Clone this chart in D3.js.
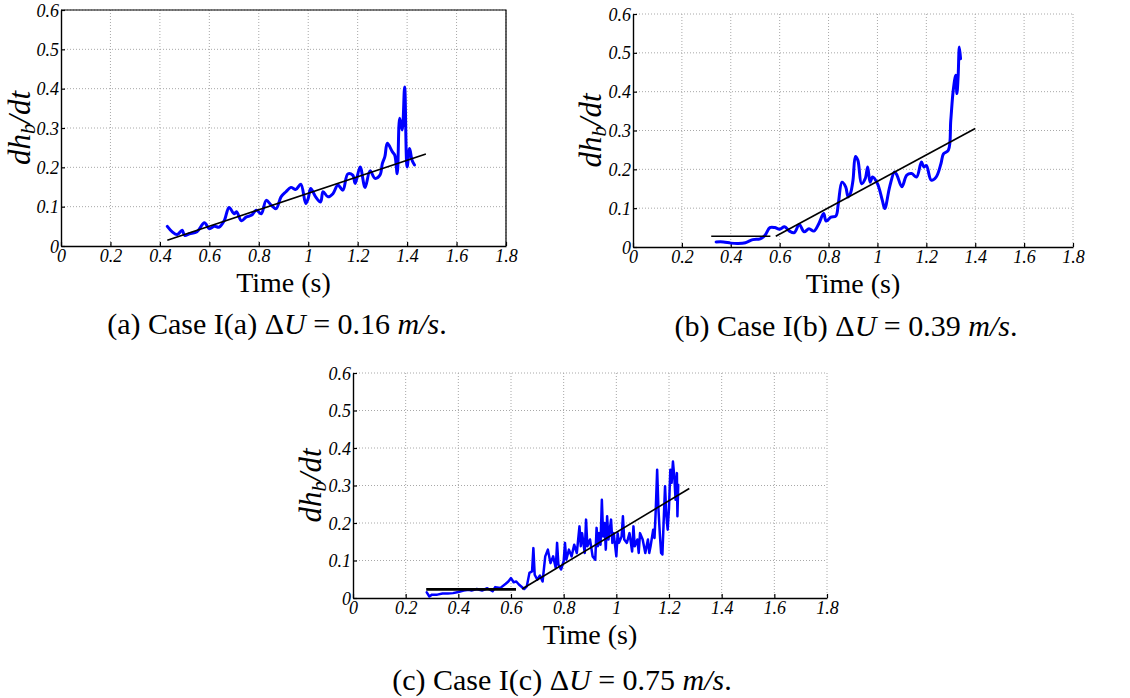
<!DOCTYPE html>
<html>
<head>
<meta charset="utf-8">
<script src="https://cdn.jsdelivr.net/npm/d3@7"></script>
<style>
  body { margin: 0; background: #fff; }
  text { font-family: 'Liberation Serif', 'DejaVu Serif', serif; }
</style>
</head>
<body>
<div id="root"></div>
<script>
const SVG_WIDTH = 1130;
const SVG_HEIGHT = 698;

const X_TICKS = [0, 0.2, 0.4, 0.6, 0.8, 1, 1.2, 1.4, 1.6, 1.8];
const X_TICK_LABELS = ['0', '0.2', '0.4', '0.6', '0.8', '1', '1.2', '1.4', '1.6', '1.8'];
const Y_TICKS = [0, 0.1, 0.2, 0.3, 0.4, 0.5, 0.6];
const Y_TICK_LABELS = ['0', '0.1', '0.2', '0.3', '0.4', '0.5', '0.6'];

// (a) Case I(a)
const timeA = [0.43, 0.45, 0.47, 0.49, 0.50, 0.52, 0.55, 0.58, 0.60, 0.62, 0.64, 0.66, 0.68, 0.70, 0.71, 0.73,
  0.75, 0.77, 0.79, 0.81, 0.83, 0.85, 0.87, 0.89, 0.91, 0.93, 0.95, 0.97, 0.99, 1.00, 1.01, 1.03, 1.05, 1.06,
  1.08, 1.10, 1.12, 1.14, 1.16, 1.18, 1.19, 1.21, 1.23, 1.25, 1.27, 1.29, 1.30, 1.31, 1.32, 1.34, 1.35, 1.36,
  1.37, 1.38, 1.39, 1.40, 1.41, 1.42, 1.43];
const rateA = [0.050, 0.036, 0.029, 0.040, 0.027, 0.031, 0.036, 0.059, 0.044, 0.050, 0.048, 0.064, 0.098, 0.082,
  0.087, 0.064, 0.074, 0.078, 0.091, 0.082, 0.116, 0.104, 0.095, 0.125, 0.138, 0.149, 0.144, 0.157, 0.108, 0.121,
  0.146, 0.125, 0.112, 0.138, 0.125, 0.133, 0.155, 0.142, 0.183, 0.180, 0.159, 0.201, 0.149, 0.191, 0.172, 0.180,
  0.210, 0.227, 0.261, 0.240, 0.231, 0.184, 0.325, 0.295, 0.404, 0.201, 0.248, 0.218, 0.206];
const fitTimeA = [[0.43, 1.476]];
const fitRateA = [[0.0145, 0.234]];

// (b) Case I(b)
const timeB = [0.34, 0.37, 0.40, 0.43, 0.46, 0.49, 0.52, 0.54, 0.56, 0.58, 0.60, 0.62, 0.64, 0.66, 0.68, 0.70,
  0.72, 0.74, 0.76, 0.78, 0.79, 0.81, 0.83, 0.84, 0.855, 0.87, 0.88, 0.89, 0.90, 0.91, 0.92, 0.935, 0.95, 0.96,
  0.97, 0.98, 1.00, 1.02, 1.03, 1.05, 1.07, 1.08, 1.10, 1.12, 1.14, 1.16, 1.18, 1.19, 1.20, 1.22, 1.24, 1.26,
  1.27, 1.29, 1.30, 1.31, 1.32, 1.325, 1.33, 1.335, 1.34];
const rateB = [0.013, 0.013, 0.010, 0.009, 0.011, 0.019, 0.021, 0.030, 0.050, 0.050, 0.046, 0.052, 0.041, 0.037,
  0.058, 0.039, 0.047, 0.041, 0.060, 0.086, 0.067, 0.077, 0.080, 0.112, 0.167, 0.155, 0.129, 0.139, 0.172, 0.233,
  0.223, 0.163, 0.176, 0.206, 0.167, 0.180, 0.163, 0.120, 0.099, 0.155, 0.193, 0.185, 0.155, 0.185, 0.189, 0.180,
  0.219, 0.206, 0.210, 0.172, 0.180, 0.215, 0.240, 0.249, 0.326, 0.403, 0.442, 0.395, 0.438, 0.515, 0.485];
const fitTimeB = [[0.32, 0.562], [0.584, 1.40]];
const fitRateB = [[0.0275, 0.0275], [0.0275, 0.305]];

// (c) Case I(c)
const timeC = [0.28, 0.29, 0.30, 0.32, 0.34, 0.36, 0.38, 0.40, 0.42, 0.44, 0.45, 0.47, 0.49, 0.51, 0.53, 0.54,
  0.56, 0.58, 0.59, 0.60, 0.61, 0.62, 0.63, 0.65, 0.66, 0.67, 0.68, 0.685, 0.69, 0.70, 0.71, 0.72, 0.73, 0.74,
  0.75, 0.76, 0.77, 0.775, 0.78, 0.79, 0.80, 0.805, 0.81, 0.82, 0.83, 0.84, 0.85, 0.86, 0.865, 0.87, 0.88, 0.885,
  0.89, 0.90, 0.91, 0.92, 0.925, 0.93, 0.935, 0.94, 0.945, 0.95, 0.955, 0.96, 0.965, 0.97, 0.98, 0.985, 0.99,
  1.00, 1.005, 1.01, 1.02, 1.025, 1.03, 1.04, 1.05, 1.06, 1.065, 1.07, 1.08, 1.085, 1.09, 1.10, 1.11, 1.12,
  1.125, 1.13, 1.14, 1.145, 1.15, 1.155, 1.16, 1.165, 1.17, 1.175, 1.18, 1.185, 1.19, 1.195, 1.20, 1.205, 1.21,
  1.215, 1.22, 1.225, 1.23, 1.232, 1.235];
const rateC = [0.015, 0.004, 0.009, 0.009, 0.012, 0.012, 0.013, 0.016, 0.020, 0.022, 0.020, 0.024, 0.020, 0.026,
  0.018, 0.029, 0.027, 0.038, 0.044, 0.053, 0.042, 0.044, 0.036, 0.024, 0.031, 0.067, 0.071, 0.133, 0.062, 0.049,
  0.060, 0.044, 0.111, 0.129, 0.093, 0.111, 0.080, 0.147, 0.089, 0.076, 0.098, 0.147, 0.102, 0.129, 0.111, 0.142,
  0.120, 0.191, 0.138, 0.173, 0.120, 0.209, 0.138, 0.156, 0.111, 0.102, 0.187, 0.138, 0.173, 0.142, 0.262, 0.164,
  0.200, 0.129, 0.218, 0.156, 0.209, 0.147, 0.173, 0.111, 0.173, 0.147, 0.164, 0.218, 0.156, 0.147, 0.173, 0.124,
  0.191, 0.138, 0.156, 0.120, 0.173, 0.156, 0.120, 0.156, 0.120, 0.138, 0.182, 0.160, 0.240, 0.342, 0.236, 0.173,
  0.120, 0.116, 0.209, 0.298, 0.218, 0.182, 0.240, 0.342, 0.307, 0.364, 0.324, 0.262, 0.333, 0.218, 0.302];
const fitTimeC = [[0.278, 0.619], [0.642, 1.277]];
const fitRateC = [[0.023, 0.023], [0.024, 0.292]];

/**
 * 添加svg容器
 */
function addSvg() {
  const svg = document.createElementNS('http://www.w3.org/2000/svg', 'svg');
  svg.id = 'svg';
  svg.setAttribute('width', SVG_WIDTH);
  svg.setAttribute('height', SVG_HEIGHT);
  return svg;
}

/**
 * 画一个子图
 */
function drawPanel(p) {
  const svg = d3.select('#svg');
  const g = svg.append('g');
  const xScale = d3.scaleLinear().domain([0, 1.8]).range([p.left, p.right]);
  const yScale = d3.scaleLinear().domain([0, 0.6]).range([p.bottom, p.top]);

  // 网格
  g.append('g')
    .selectAll('line')
    .data(X_TICKS.slice(1))
    .join('line')
    .attr('x1', (d) => xScale(d)).attr('x2', (d) => xScale(d))
    .attr('y1', p.top).attr('y2', p.bottom)
    .attr('stroke', '#a8a8a8').attr('stroke-width', 1).attr('stroke-dasharray', '1,2');
  g.append('g')
    .selectAll('line')
    .data(Y_TICKS.slice(1))
    .join('line')
    .attr('x1', p.left).attr('x2', p.right)
    .attr('y1', (d) => yScale(d)).attr('y2', (d) => yScale(d))
    .attr('stroke', '#a8a8a8').attr('stroke-width', 1).attr('stroke-dasharray', '1,2');

  if (p.box) {
    g.append('path')
      .attr('d', `M${p.left},${p.top} H${p.right} V${p.bottom}`)
      .attr('fill', 'none').attr('stroke', '#000').attr('stroke-width', 1.2);
  }

  // 坐标轴
  const xAxis = d3.axisBottom(xScale)
    .tickValues(X_TICKS)
    .tickFormat((d, i) => X_TICK_LABELS[i])
    .tickSizeInner(-4).tickSizeOuter(0).tickPadding(4);
  const yAxis = d3.axisLeft(yScale)
    .tickValues(Y_TICKS)
    .tickFormat((d, i) => Y_TICK_LABELS[i])
    .tickSizeInner(-4).tickSizeOuter(0).tickPadding(2);

  const gx = g.append('g').attr('transform', `translate(0,${p.bottom})`).call(xAxis);
  const gy = g.append('g').attr('transform', `translate(${p.left},0)`).call(yAxis);
  [gx, gy].forEach((ax) => {
    ax.select('.domain').attr('stroke', '#000').attr('stroke-width', 1.4);
    ax.selectAll('.tick line').attr('stroke', '#000').attr('stroke-width', 1.2);
    ax.selectAll('.tick text')
      .attr('fill', '#000')
      .attr('font-style', 'italic')
      .attr('font-size', 18);
  });
  gx.selectAll('.tick text').attr('dy', 0).attr('y', 16);
  gy.selectAll('.tick text').attr('dy', '0.34em');

  const line = d3.line().x((d) => xScale(d[0])).y((d) => yScale(d[1]));
  // 数据曲线
  g.append('path')
    .datum(d3.zip(p.time, p.rate))
    .attr('d', line.curve(p.smooth ? d3.curveCatmullRom : d3.curveLinear))
    .attr('fill', 'none').attr('stroke', '#0000ff')
    .attr('stroke-width', p.curveWidth).attr('stroke-linejoin', 'round').attr('stroke-linecap', 'round');
  // 拟合直线
  line.curve(d3.curveLinear);
  p.fitTime.forEach((ft, i) => {
    g.append('path')
      .datum(d3.zip(ft, p.fitRate[i]))
      .attr('d', line)
      .attr('fill', 'none').attr('stroke', '#000')
      .attr('stroke-width', p.fitWidth[i]);
  });

  // 轴标题
  g.append('text')
    .attr('x', (p.left + p.right) / 2).attr('y', p.bottom + 46)
    .attr('text-anchor', 'middle').attr('font-size', 28).attr('fill', '#000')
    .text('Time (s)');
  const yl = g.append('text')
    .attr('transform', `translate(${p.yLabelBase},${(p.top + p.bottom) / 2}) rotate(-90)`)
    .attr('text-anchor', 'middle').attr('font-size', 31).attr('font-style', 'italic').attr('fill', '#000');
  yl.append('tspan').text('dh');
  yl.append('tspan').attr('font-size', 21).attr('dy', 5).text('b');
  yl.append('tspan').attr('dy', -5).text('/dt');

  // 子图说明
  const cap = svg.append('text')
    .attr('x', p.capX).attr('y', p.capY)
    .attr('text-anchor', 'middle').attr('font-size', 30).attr('fill', '#000');
  cap.append('tspan').text(`(${p.letter})  Case I(${p.letter}) Δ`);
  cap.append('tspan').attr('font-style', 'italic').text('U');
  cap.append('tspan').text(` = ${p.du} `);
  cap.append('tspan').attr('font-style', 'italic').text('m/s');
  cap.append('tspan').text('.');
}

function main() {
  drawPanel({
    left: 61, right: 506, top: 10, bottom: 246, box: true, yLabelBase: 30, capX: 277, capY: 334,
    time: timeA, rate: rateA, fitTime: fitTimeA, fitRate: fitRateA, fitWidth: [1.6],
    smooth: true, curveWidth: 3, letter: 'a', du: '0.16',
  });
  drawPanel({
    left: 633, right: 1073, top: 14, bottom: 247, box: false, yLabelBase: 601, capX: 846, capY: 336,
    time: timeB, rate: rateB, fitTime: fitTimeB, fitRate: fitRateB, fitWidth: [1.6, 1.6],
    smooth: true, curveWidth: 3, letter: 'b', du: '0.39',
  });
  drawPanel({
    left: 353, right: 827, top: 373, bottom: 598, box: false, yLabelBase: 321, capX: 562, capY: 690,
    time: timeC, rate: rateC, fitTime: fitTimeC, fitRate: fitRateC, fitWidth: [2.6, 1.6],
    smooth: false, curveWidth: 2.5, letter: 'c', du: '0.75',
  });
}

const root = document.getElementById('root');
root.appendChild(addSvg());
main();
</script>
</body>
</html>
